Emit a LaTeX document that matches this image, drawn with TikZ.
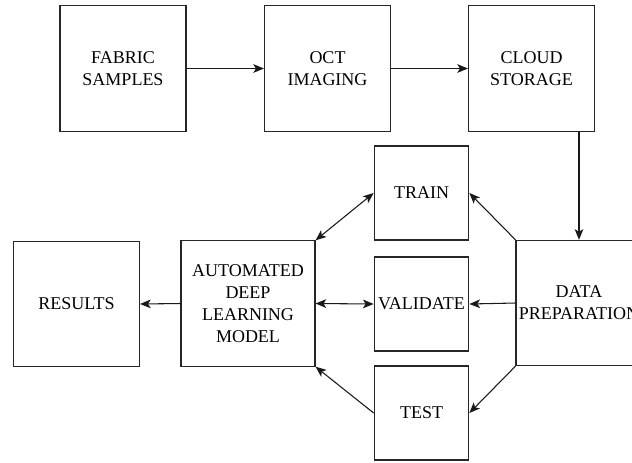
\documentclass[tikz,border=0pt]{standalone}
\usepackage{fontspec}
\setmainfont{Liberation Serif}
\usetikzlibrary{arrows.meta}
\begin{document}
\begin{tikzpicture}[x=0.75pt,y=-0.75pt,
  box/.style={draw=black!85,line width=0.8pt,rectangle,inner sep=0pt,align=center,
    font=\fontsize{13.5pt}{16.5pt}\selectfont},
  bigbox/.style={box,minimum width=94.5pt,minimum height=94pt},
  smallbox/.style={box,minimum width=71pt,minimum height=70.5pt},
  conn/.style={draw=black!90,line width=0.8pt,-{Stealth[length=8pt,width=6.5pt,inset=2pt]}},
  biconn/.style={draw=black!90,line width=0.8pt,{Stealth[length=8pt,width=6.5pt,inset=2pt]}-{Stealth[length=8pt,width=6.5pt,inset=2pt]}}]
\useasboundingbox (0,0) rectangle (632,462);
\clip (0,0) rectangle (632,462);
\node[bigbox] (fabric) at (123,68.5) {FABRIC\\SAMPLES};
\node[bigbox] (oct) at (327.5,68.5) {OCT\\IMAGING};
\node[bigbox] (cloud) at (531.5,68.5) {CLOUD\\STORAGE};
\node[bigbox] (results) at (76.5,304) {RESULTS};
\node[box,minimum width=100.5pt,minimum height=94pt] (model) at (248,303.5) {AUTOMATED\\DEEP\\LEARNING\\MODEL};
\node[smallbox] (train) at (421.5,193) {TRAIN};
\node[smallbox] (validate) at (421.5,304) {VALIDATE};
\node[smallbox] (test) at (421.5,413) {TEST};
\node[bigbox] (data) at (579,303) {DATA\\PREPARATION};
\draw[conn] (fabric.east) -- (oct.west);
\draw[conn] (oct.east) -- (cloud.west);
\draw[conn] (data.north |- cloud.south) -- (data.north);
\draw[conn] (data.north west) -- (train.east);
\draw[conn] (data.west) -- (validate.east);
\draw[conn] (data.south west) -- (test.east);
\draw[biconn] (model.east) -- (validate.west);
\draw[biconn] (model.north east) -- (train.west);
\draw[conn] (test.west) -- (model.south east);
\draw[conn] (model.west) -- (results.east);
\end{tikzpicture}
\end{document}
